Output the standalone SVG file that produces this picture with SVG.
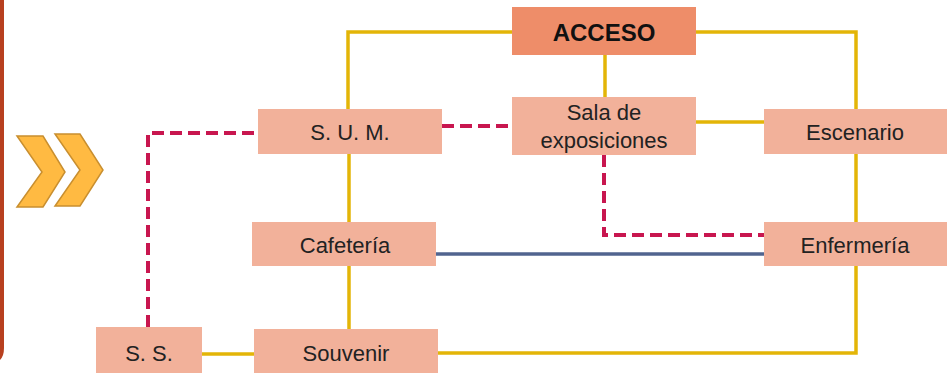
<svg xmlns="http://www.w3.org/2000/svg" width="947" height="373" viewBox="0 0 947 373">
<style>
.box{fill:#F2B19A}
.acc{fill:#EE8D69}
.t{font-family:"Liberation Sans",Arial,sans-serif;font-size:22px;fill:#222;text-anchor:middle}
.tb{font-family:"Liberation Sans",Arial,sans-serif;font-size:24px;font-weight:bold;fill:#111;text-anchor:middle}
.y{fill:none;stroke:#E3B507;stroke-width:3.5}
.d{fill:none;stroke:#C8164F;stroke-width:4;stroke-dasharray:12 6}
.b{fill:none;stroke:#51648F;stroke-width:3.5}
.chev{fill:#FFBA42;stroke:#C98F2F;stroke-width:1.5}
</style>
<rect width="947" height="373" fill="#fff"/>
<path d="M2 0 V348 Q2 360 -8 362" fill="none" stroke="#B8401F" stroke-width="4"/>
<g id="chevrons">
<polygon class="chev" points="17,136 43,136 65,172 43,207 17,207 42,172"/>
<polygon class="chev" points="55,134 80,134 103,170 80,206 55,206 80,170"/>
</g>
<g id="connectors">
<path class="y" d="M348 109 V32 H512"/>
<path class="y" d="M696 32 H856 V109"/>
<path class="y" d="M605 55 V97"/>
<path class="y" d="M696 122 H764"/>
<path class="y" d="M856 154 V222"/>
<path class="y" d="M856 266 V353 H438"/>
<path class="y" d="M349 154 V222"/>
<path class="y" d="M349 266 V329"/>
<path class="y" d="M202 354 H254"/>
<path class="b" d="M436 254 H764"/>
<path class="d" d="M442 126 H512"/>
<path class="d" d="M604 155 V235 H764"/>
<path class="d" d="M148 327 V133 H258"/>
</g>
<g id="acceso"><rect class="acc" x="512" y="7" width="184" height="48"/><text class="tb" x="604" y="41">ACCESO</text></g>
<g id="sala"><rect class="box" x="512" y="97" width="184" height="58"/><text class="t" x="604" y="120">Sala de</text><text class="t" x="604" y="148">exposiciones</text></g>
<g id="sum"><rect class="box" x="258" y="109" width="184" height="45"/><text class="t" x="350" y="140">S. U. M.</text></g>
<g id="escenario"><rect class="box" x="764" y="109" width="183" height="45"/><text class="t" x="855" y="140">Escenario</text></g>
<g id="cafeteria"><rect class="box" x="252" y="222" width="184" height="44"/><text class="t" x="345" y="253">Cafetería</text></g>
<g id="enfermeria"><rect class="box" x="764" y="222" width="183" height="44"/><text class="t" x="855" y="253">Enfermería</text></g>
<g id="ss"><rect class="box" x="96" y="327" width="106" height="46"/><text class="t" x="149" y="361">S. S.</text></g>
<g id="souvenir"><rect class="box" x="254" y="329" width="184" height="44"/><text class="t" x="346" y="361">Souvenir</text></g>
</svg>
